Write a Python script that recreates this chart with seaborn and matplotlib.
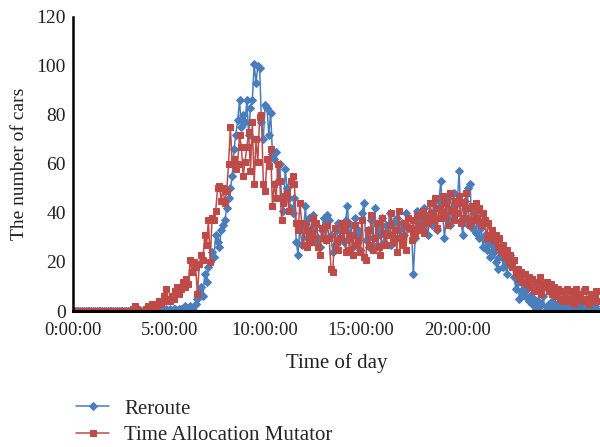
import numpy as np
import pandas as pd
import matplotlib
matplotlib.use("Agg")
import matplotlib.pyplot as plt
import seaborn as sns

# ---- data ----
reroute = (
    [0] * 40
    + [0, 0, 0, 0, 1, 0, 0, 0, 1, 0]
    + [0, 1, 0, 1, 0, 1, 1, 0, 1, 1]
    + [1, 2, 1, 1, 2, 1, 0, 3, 5, 8]
    + [10, 6, 15, 12, 18, 20, 24, 22, 31, 28]
    + [26, 33, 35, 37, 42, 46, 50, 55, 66, 72]
    + [78, 86, 75, 80, 77, 86, 72, 83, 86, 101]
    + [93, 100, 99, 77, 70, 84, 83, 72, 81, 64]
    + [62, 65, 53, 60, 46, 41, 58, 50, 46, 42]
    + [40, 46, 28, 23, 35, 27, 33, 43, 30, 38]
    + [32, 39, 28, 35, 30, 26, 33, 38, 29, 39]
    + [37, 31, 24, 27, 33, 36, 30, 34, 28, 37]
    + [43, 30, 35, 26, 38, 31, 33, 25, 40, 44]
    + [29, 33, 26, 37, 30, 42, 27, 34, 31, 38]
    + [28, 35, 32, 40, 27, 36, 30, 38, 33, 29]
    + [36, 31, 40, 34, 34, 33, 15, 30, 41, 35]
    + [38, 33, 42, 36, 31, 40, 35, 44, 37, 33]
    + [45, 53, 40, 30, 38, 46, 35, 42, 48, 39]
    + [44, 57, 37, 31, 45, 36, 50, 52, 34, 40]
    + [32, 37, 30, 34, 26, 31, 25, 28, 22, 27]
    + [24, 20, 17, 22, 26, 18, 21, 15, 19, 23]
    + [20, 14, 9, 12, 5, 8, 11, 6, 9, 4]
    + [6, 3, 5, 1, 4, 2, 3, 6, 0, 2]
    + [3, 1, 4, 2, 1, 3, 0, 2, 1, 0]
    + [0, 2, 1, 3, 0, 1, 2, 0, 1, 3]
    + [1, 0, 2, 1, 0, 2, 1, 0]
)

mutator = (
    [0] * 30
    + [0, 0, 0, 1, 2, 1, 0, 0, 0, 0]
    + [1, 2, 2, 3, 2, 3, 2, 4, 3, 4]
    + [6, 9, 5, 4, 6, 5, 8, 10, 7, 9]
    + [12, 10, 13, 11, 21, 16, 20, 18, 7, 19]
    + [23, 21, 31, 27, 37, 20, 38, 37, 41, 50]
    + [51, 45, 50, 44, 49, 60, 75, 60, 62, 58]
    + [60, 72, 67, 55, 61, 67, 73, 57, 77, 52]
    + [70, 61, 79, 80, 52, 49, 62, 59, 66, 43]
    + [52, 46, 60, 53, 37, 44, 47, 48, 41, 53]
    + [55, 52, 36, 33, 44, 36, 27, 36, 26, 33]
    + [28, 38, 30, 36, 26, 23, 34, 30, 29, 35]
    + [30, 17, 16, 34, 28, 25, 30, 36, 33, 24]
    + [36, 25, 31, 23, 35, 27, 29, 24, 37, 22]
    + [21, 33, 27, 39, 25, 30, 36, 26, 23, 38]
    + [32, 27, 31, 35, 40, 28, 33, 24, 41, 30]
    + [27, 36, 25, 38, 34, 29, 37, 31, 39, 33]
    + [35, 41, 32, 38, 36, 44, 40, 37, 46, 34]
    + [42, 38, 47, 39, 44, 35, 48, 41, 37, 45]
    + [40, 47, 36, 44, 38, 48, 42, 35, 43, 37]
    + [44, 38, 42, 35, 40, 37, 30, 36, 31, 33]
    + [29, 31, 26, 30, 24, 27, 22, 25, 20, 23]
    + [18, 21, 15, 17, 13, 16, 12, 15, 11, 14]
    + [10, 13, 8, 12, 9, 14, 7, 11, 10, 12]
    + [8, 11, 7, 10, 6, 9, 5, 8, 4, 7]
    + [9, 4, 8, 6, 3, 9, 5, 7, 4, 8]
    + [9, 5, 3, 7, 4, 6, 8, 4]
)

tick_labels = ["0:00:00", "5:00:00", "10:00:00", "15:00:00", "20:00:00"]
tick_step = 52.5          # samples between labelled times on the category axis
y_ticks = [0, 20, 40, 60, 80, 100, 120]

assert len(reroute) == len(mutator) == 288
n = len(reroute)
idx = np.arange(n)

BLUE = "#4a7ebb"
RED = "#be4b48"
TXT = "#222222"

sns.set_style("white")
plt.rcParams["font.family"] = ["Liberation Serif", "DejaVu Serif"]

fig = plt.figure(figsize=(6.0, 4.47), dpi=100)
ax = fig.add_axes([73 / 600, 136 / 447, 527 / 600, 294 / 447])

sns.lineplot(x=idx, y=mutator, ax=ax, color=RED, marker="s", markersize=5,
             markeredgecolor=RED, linewidth=1.1, label="Time Allocation Mutator",
             zorder=2)
sns.lineplot(x=idx, y=reroute, ax=ax, color=BLUE, marker="D", markersize=3.6,
             markeredgecolor=BLUE, linewidth=1.1, label="Reroute", zorder=1)

ax.set_xlim(0, n)
ax.set_ylim(0, 120)
ax.set_xticks([i * tick_step for i in range(len(tick_labels))])
ax.set_xticklabels(tick_labels)
ax.set_yticks(y_ticks)
ax.tick_params(axis="x", length=0, labelsize=13.5, colors=TXT, pad=8)
ax.tick_params(axis="y", length=0, labelsize=14, colors=TXT, pad=5)
ax.set_xlabel("Time of day", fontsize=15, color=TXT, labelpad=10)
ax.set_ylabel("The number of cars", fontsize=14, color=TXT, labelpad=6)

for side in ["top", "right"]:
    ax.spines[side].set_visible(False)
ax.spines["left"].set_color("black")
ax.spines["left"].set_linewidth(1.8)
ax.spines["bottom"].set_color("black")
ax.spines["bottom"].set_linewidth(2.2)
ax.spines["bottom"].set_zorder(5)

handles, labels = ax.get_legend_handles_labels()
order = [labels.index("Reroute"), labels.index("Time Allocation Mutator")]
ax.legend([handles[i] for i in order], [labels[i] for i in order],
          loc="upper left", bbox_to_anchor=(76 / 600, 1 - 399 / 447),
          bbox_transform=fig.transFigure, frameon=False, fontsize=15,
          handlelength=1.6, handletextpad=0.7, labelspacing=0.32,
          borderaxespad=0, borderpad=0)

fig.savefig("out.png", dpi=100)
